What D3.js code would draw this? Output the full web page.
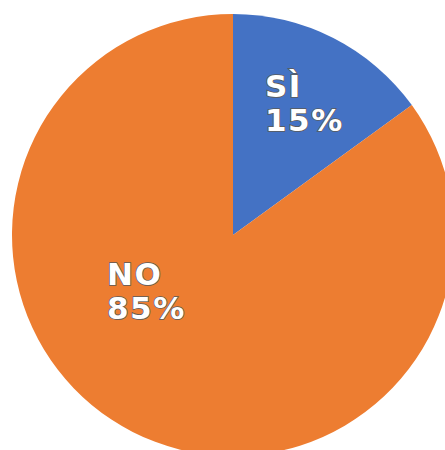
<!DOCTYPE html>
<html>
<head>
<meta charset="utf-8">
<script src="https://cdn.jsdelivr.net/npm/d3@7"></script>
<style>
  body { margin: 0; background: #fff; }
  .lbl { font-family: "DejaVu Sans", Verdana, sans-serif; font-weight: bold; font-size: 31px;
         letter-spacing: 1.5px;
         fill: #fff; stroke: #5a5a5a; stroke-width: 1.6px; paint-order: stroke; }
</style>
</head>
<body>
<script>
// pie data
var categories = ["SÌ", "NO"];
var values = [15, 85];
var colors = ["#4472C4", "#ED7D31"];

var w = 445, h = 450;
var cx = 233, cy = 235, r = 221;

var data = categories.map(function(c, i) { return {key: c, value: values[i]}; });

var svg = d3.select("body").append("svg")
    .attr("width", w)
    .attr("height", h);

var pie = d3.pie().sort(null).value(function(d) { return d.value; });
var arc = d3.arc().innerRadius(0).outerRadius(r);

var g = svg.append("g").attr("transform", "translate(" + cx + "," + cy + ")");

g.selectAll("path")
  .data(pie(data))
  .enter()
  .append("path")
    .attr("d", arc)
    .attr("fill", function(d, i) { return colors[i]; });

// label positions relative to pie centre (left edge of text, first baseline)
var labelPos = [[32, -138], [-126, 50]];

var labels = g.selectAll(".lbl")
  .data(pie(data))
  .enter()
  .append("text")
    .attr("class", "lbl")
    .attr("x", function(d, i) { return labelPos[i][0]; })
    .attr("y", function(d, i) { return labelPos[i][1]; });

labels.append("tspan")
    .attr("x", function(d, i) { return labelPos[i][0]; })
    .text(function(d) { return d.data.key; });
labels.append("tspan")
    .attr("x", function(d, i) { return labelPos[i][0]; })
    .attr("dy", 34)
    .text(function(d) { return d.data.value + "%"; });
</script>
</body>
</html>
